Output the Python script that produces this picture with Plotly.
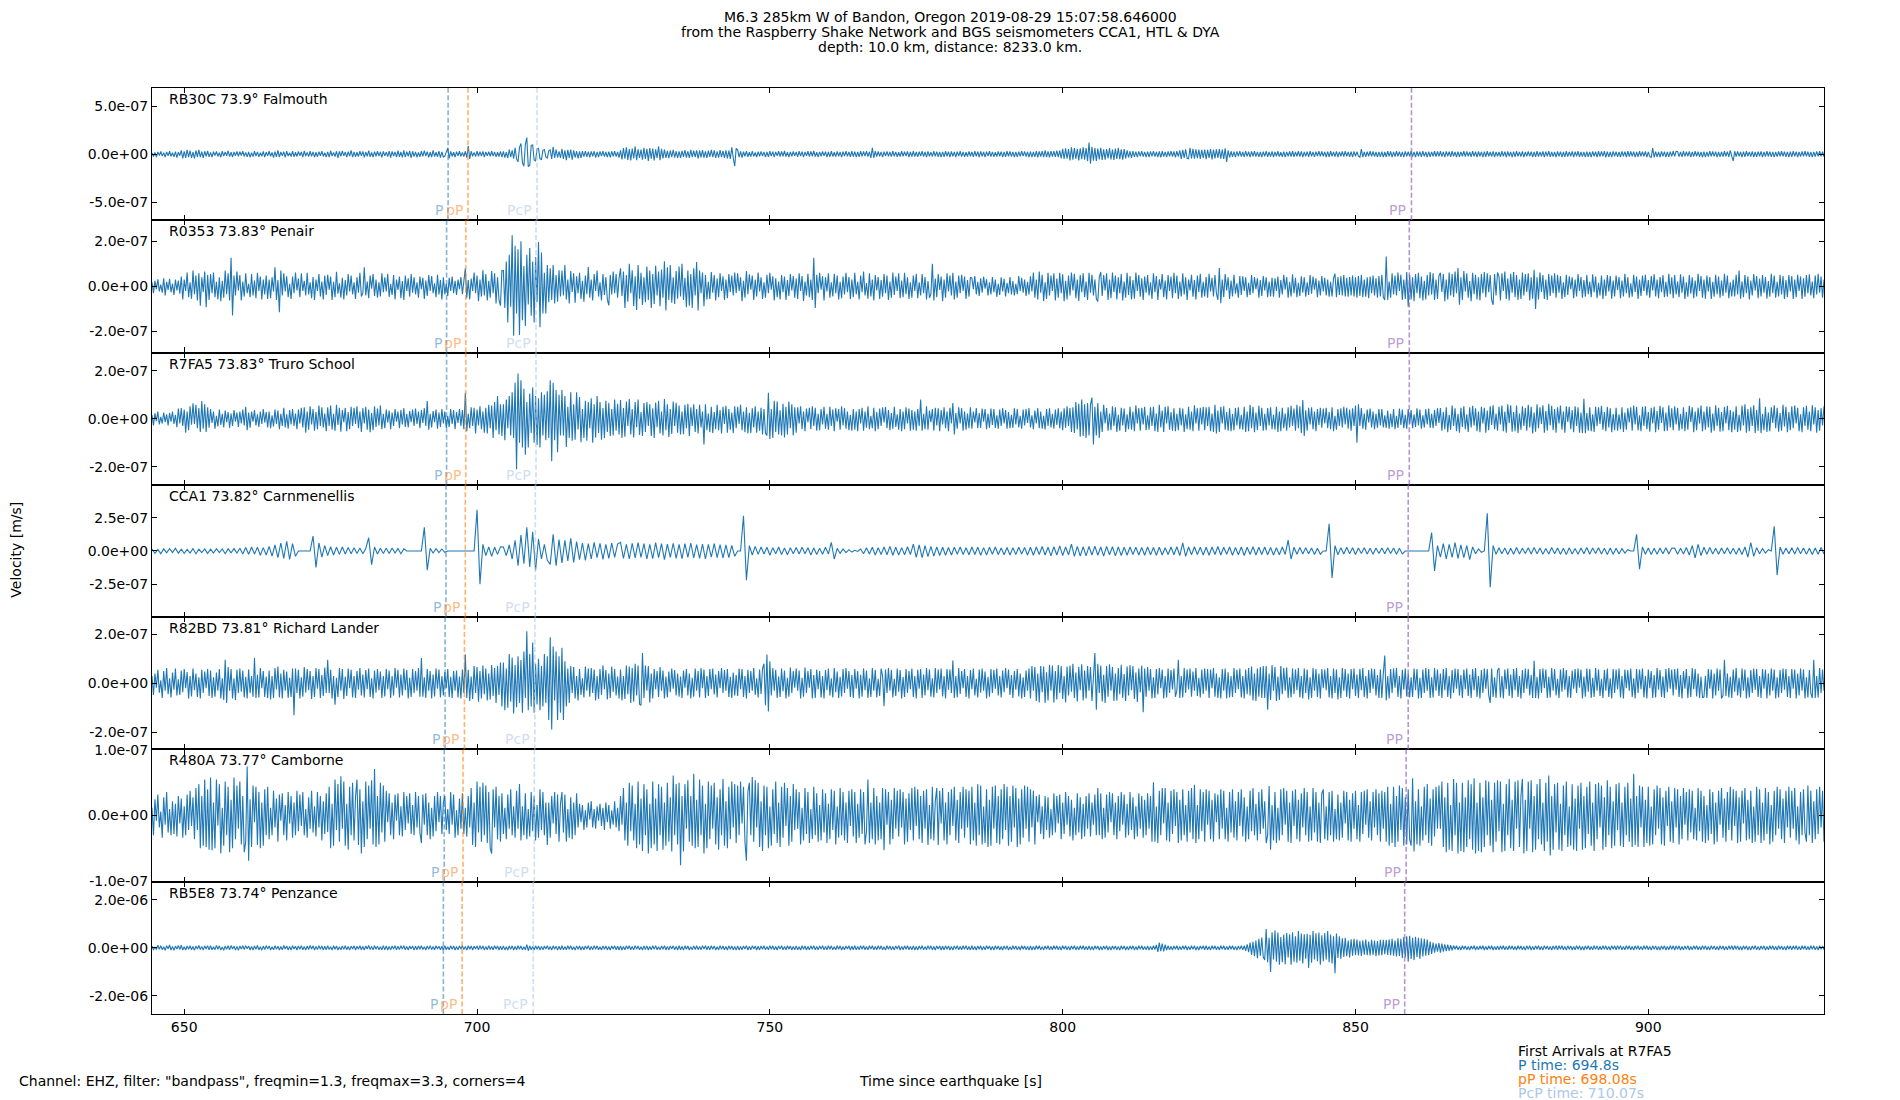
import plotly.graph_objects as go
from plotly.subplots import make_subplots

T0 = 644.5   # first sample, s since origin time

stations = ["RB30C", "R0353", "R7FA5", "CCA1", "R82BD", "R480A", "RB5E8"]
distances = ["73.9", "73.83", "73.83", "73.82", "73.81", "73.77", "73.74"]
places = ["Falmouth", "Penair", "Truro School", "Carnmenellis", "Richard Lander", "Camborne", "Penzance"]
sample_steps = [0.25, 0.25, 0.25, 0.5, 0.25, 0.25, 0.25]   # s between values of each trace

# arrival times per station [s]
p_arrivals = [695.06, 694.8, 694.8, 694.7, 694.55, 694.4, 694.25]
pP_arrivals = [698.45, 698.08, 698.08, 698.0, 697.85, 697.6, 697.45]
PcP_arrivals = [710.24, 710.07, 710.07, 709.96, 709.87, 709.78, 709.6]
PP_arrivals = [859.56, 859.19, 859.19, 859.0, 859.0, 858.65, 858.4]

# y limits and ticks per panel, nm/s
y_limits = [687, 293, 276, 495, 270, 101, 2750]
y_ticks = [[500, 0, -500], [200, 0, -200], [200, 0, -200], [250, 0, -250],
           [200, 0, -200], [100, 0, -100], [2000, 0, -2000]]

# velocity traces, nm/s
rb30c = [
    12,-25,18,-30,22,-14,28,-20,16,-32,24,-18,30,-22,14,-28,26,-35,20,-16,
    40,-45,28,-38,45,-30,36,-40,22,-45,38,-28,44,-32,25,-40,30,-22,35,-28,
    18,-30,25,-15,28,-24,15,-32,30,-20,22,-18,35,-26,20,-30,24,-16,28,-22,
    26,-14,30,-24,18,-28,22,-32,14,-26,30,-20,24,-28,16,-22,28,-30,20,-18,
    30,-22,18,-35,25,-28,40,-30,22,-18,26,-34,30,-20,16,-25,32,-28,20,-24,
    28,-16,22,-30,34,-20,18,-26,30,-22,24,-32,20,-28,26,-18,30,-24,16,-30,
    24,-30,35,-20,18,-26,30,-38,28,-22,34,-18,22,-30,26,-20,38,-32,24,-28,
    20,-26,32,-18,28,-34,22,-24,36,-28,18,-30,26,-22,32,-20,24,-34,28,-18,
    20,-25,32,-36,28,-20,24,-30,36,-28,22,-34,40,-30,26,-22,35,-38,30,-26,
    24,-32,18,-28,30,-24,36,-20,26,-34,22,-30,38,-26,20,-28,32,-36,24,-30,
    -20,30,62,-45,28,-24,20,-30,25,-18,30,-22,18,-26,30,-35,83,-50,30,-22,
    18,-26,30,-22,26,-20,28,-30,22,-18,26,-24,30,-20,24,-28,20,-26,28,-32,
    28,-35,20,-40,48,-30,40,-48,65,-50,-80,70,110,-90,-125,100,172,-130,-118,90,
    95,-60,-70,55,60,-48,-55,40,48,-30,-40,35,45,-50,75,-40,48,-35,30,-40,
    55,-50,40,-62,45,-38,48,-58,40,-35,30,-44,28,-38,32,-25,30,-28,26,-34,
    28,-22,30,-36,24,-30,28,-20,32,-26,22,-30,26,-34,28,-22,30,-26,24,-36,
    40,-55,62,-48,70,-60,52,-66,58,-45,80,-62,50,-40,48,-58,66,-50,55,-70,
    62,-48,58,-66,50,-40,80,-62,55,-45,48,-40,35,-42,38,-30,45,-35,30,-38,
    30,-40,35,-28,42,-36,30,-38,44,-32,36,-30,40,-45,38,-34,42,-36,30,-40,
    36,-28,44,-32,38,-40,30,-36,42,-30,34,-38,40,-44,36,-50,70,-40,-125,60,
    45,-30,28,-35,25,-22,30,-28,20,-26,32,-24,18,-30,26,-22,28,-20,24,-30,
    22,-28,30,-20,26,-32,24,-18,30,-25,28,-22,34,-26,20,-30,24,-22,28,-18,
    22,-28,30,-20,26,-32,24,-18,30,-25,28,-22,34,-26,20,-30,24,-22,28,-18,
    26,-30,22,-28,30,-24,20,-26,28,-22,24,-30,26,-20,32,-24,22,-28,30,-26,
    26,-30,22,-28,30,-24,28,-20,32,-26,24,-40,65,-40,32,-26,28,-22,24,-30,
    26,-20,28,-24,22,-26,30,-22,24,-28,20,-26,30,-24,26,-20,28,-30,22,-26,
    30,-25,22,-28,26,-20,32,-26,24,-30,28,-22,20,-26,30,-24,26,-28,22,-30,
    24,-28,30,-22,26,-32,28,-24,22,-30,26,-20,30,-26,24,-28,20,-25,28,-22,
    24,-28,30,-22,26,-32,28,-24,22,-30,26,-20,30,-26,24,-28,20,-25,28,-22,
    26,-30,24,-28,30,-22,28,-26,24,-30,22,-28,26,-24,30,-20,28,-26,24,-30,
    26,-30,24,-28,30,-34,28,-25,30,-32,38,-30,28,-34,32,-26,30,-28,36,-30,
    38,-45,55,-50,60,-48,52,-65,70,-58,62,-50,55,-66,60,-52,70,-58,64,-72,
    120,-100,75,-68,62,-70,58,-55,66,-60,50,-58,52,-44,62,-56,48,-60,58,-50,
    66,-52,50,-58,52,-44,40,-35,30,-38,32,-28,26,-30,28,-24,32,-26,22,-30,
    26,-30,28,-24,32,-26,22,-30,28,-34,30,-26,24,-30,28,-22,30,-26,28,-34,
    30,-26,40,-50,45,-38,50,-44,-48,66,-45,55,-48,50,-42,46,-50,44,-40,48,
    -52,45,-40,52,-55,48,-44,50,-40,52,-46,48,-50,60,-80,40,-35,30,-28,26,
    -32,28,-24,30,-26,22,-28,30,-24,26,-32,28,-22,30,-26,24,-28,22,-30,26,
    -24,30,-28,22,-26,28,-30,24,-22,30,-26,20,-28,25,-30,22,-24,28,-26,30,
    -28,24,-22,30,-26,28,-30,22,-24,26,-28,30,-22,24,-28,26,-20,30,-24,28,
    -24,22,-30,26,-28,30,-22,24,-26,28,-30,24,-22,28,-26,30,-24,22,-28,26,
    -30,28,-24,26,-22,-32,52,-32,24,-28,26,-22,30,-24,28,-26,22,-30,24,-28,
    26,-30,22,-28,30,-24,28,-32,24,-26,30,-22,26,-28,24,-30,28,-22,26,-24,
    30,-26,24,-30,28,-22,26,-28,30,-24,22,-30,26,-28,24,-22,30,-26,28,-24,
    30,-26,24,-30,28,-22,26,-28,30,-24,22,-30,26,-28,24,-22,30,-26,28,-24,
    22,-28,30,-24,26,-32,28,-22,24,-30,26,-28,32,-24,22,-26,28,-30,24,-22,
    22,-28,30,-24,26,-32,28,-22,24,-30,26,-28,32,-24,22,-26,28,-30,24,-22,
    28,-24,26,-30,22,-28,30,-26,24,-22,28,-30,26,-24,30,-28,22,-26,24,-30,
    28,-24,26,-30,22,-28,30,-26,24,-22,28,-30,26,-24,30,-28,22,-26,24,-30,
    26,-28,24,-30,28,-22,26,-32,30,-26,28,-24,30,-34,26,-28,22,-30,28,-24,
    26,-28,24,-30,28,-22,26,-32,30,-26,28,-24,26,-30,22,-28,30,-24,26,-22,
    28,-30,24,-26,-34,62,-34,26,-28,22,-30,28,-24,26,-30,22,-28,26,-24,30,
    -24,30,28,-26,22,-28,30,-24,26,-22,28,-30,24,-26,30,-22,26,-28,24,-34,
    26,-30,24,-26,30,-22,28,-24,26,-30,22,-28,24,-26,30,-22,26,-28,40,-24,
    -70,30,-26,28,-24,22,-30,26,-28,30,-22,24,-26,28,-30,22,-28,26,-24,28,
    -30,24,-26,30,-22,26,-28,24,-30,22,-26,28,-24,30,-22,26,-28,24,-30,26,
    -28,30,-24,26,-30,22,-26,28,-24,30,-22,26,-28,24,-30,22,-26,28,-24,30,
    -22,26,-28,
]

r0353 = [
    18,-30,25,-12,32,-22,8,-28,36,-40,20,-15,34,-26,12,-38,30,-18,26,-32,
    44,-58,30,-20,62,-48,18,-55,70,-35,48,-62,58,-85,40,-25,66,-92,50,-60,
    55,-30,62,-48,20,-58,40,-66,25,-50,70,-35,58,-62,127,-129,48,-40,66,-18,
    50,-62,22,-45,58,-30,12,-48,55,-40,26,-52,60,-20,44,-58,30,-36,48,-55,
    30,-52,40,-22,85,-60,28,-114,70,-40,58,-22,45,-48,12,-55,44,-30,62,-18,
    35,-48,58,-20,25,-40,60,-35,18,-52,42,-60,30,-20,55,-45,22,-58,48,-38,
    52,-15,44,-60,20,-48,65,-32,14,-50,38,-58,28,-40,55,-22,48,-35,18,-55,
    40,-28,60,-45,-30,85,-40,22,-52,48,-10,55,-42,30,-50,18,-44,58,-26,40,
    -22,56,-46,10,-38,50,-58,30,-16,44,-52,24,-60,48,-20,36,-45,55,-28,40,
    -35,18,-50,44,-12,38,-55,26,-42,50,-20,46,-30,14,-48,52,-36,28,-58,40,
    -35,12,-42,38,-20,44,-30,25,-38,30,-12,42,-34,20,80,-52,28,-58,35,-20,
    62,-30,48,-66,30,-45,72,-40,55,-62,25,-50,68,-30,58,-75,40,-60,-85,70,
    70,-95,110,-160,140,-90,227,-218,180,-120,165,-215,200,-150,90,-175,140,-80,170,-130,
    110,-160,130,-70,197,-181,150,-120,60,-120,95,-70,80,-60,95,-75,50,-68,72,-45,
    70,-40,95,-58,30,-75,68,-25,58,-72,45,-30,60,-55,25,-68,48,-35,86,-50,
    30,-62,55,-20,70,-45,18,-62,55,-38,40,-58,-84,50,-36,66,-30,55,-50,36,
    80,-42,66,-95,50,-68,100,-30,72,-88,45,-104,95,-55,60,-82,40,-70,88,-60,
    70,-95,55,-78,92,-40,66,-88,75,-50,111,-107,85,-60,95,-72,40,-78,68,-55,
    88,-45,100,-60,38,-92,70,-85,55,-96,80,-40,108,-107,70,-30,62,-88,50,-58,
    20,-55,64,-28,50,-62,35,-48,58,-20,45,-60,30,-52,55,-25,48,-40,62,-30,
    58,-20,40,-66,25,-50,68,-35,54,-15,48,-60,30,-44,62,-22,40,-55,18,-50,
    52,-30,60,-14,45,-62,36,-48,22,-58,50,-26,44,-60,28,-42,55,-18,46,-50,
    35,-55,58,-20,46,-64,22,-40,56,-48,30,-60,127,-96,52,-30,60,-14,45,-62,
    40,-22,58,-50,18,-44,56,-30,48,-58,20,-52,44,-36,60,-25,42,-55,30,-48,
    60,-35,20,-58,48,-26,66,-40,15,-54,58,-44,30,-62,50,-18,42,-56,28,-46,
    55,-30,48,-60,22,-50,62,-38,44,-20,58,-52,26,-48,60,-34,40,-56,18,-50,
    48,-20,56,-52,18,-40,55,-30,42,-58,24,-50,-35,100,-62,35,-48,55,-16,44,
    -66,30,-50,58,-22,48,-40,60,-58,22,-50,48,-30,52,-20,44,-56,28,-46,40,
    38,-12,46,-35,20,-42,36,-28,44,-10,32,-40,18,-36,42,-26,30,-46,12,-38,
    40,-22,34,-44,16,-30,42,-36,24,-40,12,-34,46,-20,38,-28,30,-42,20,-36,
    45,-22,62,-50,30,-58,66,-28,52,-65,18,-55,60,-40,48,-20,58,-62,35,-50,
    60,-30,54,-66,25,-58,48,-40,62,-18,56,-52,30,-64,50,-26,58,-48,22,-60,
    60,-28,52,-40,30,-55,-67,40,64,-42,50,-18,58,-60,30,-52,62,-25,48,-58,
    40,-30,55,-62,22,-50,60,-38,46,-58,28,-54,62,-20,50,-46,36,-60,44,-28,
    50,-40,18,-55,58,-26,46,-60,32,-14,55,-48,26,-58,50,-20,44,-52,60,-30,
    48,-56,22,-44,58,-36,40,-60,30,-18,52,-46,28,-58,48,-24,56,-50,20,-44,
    42,-50,56,-22,38,-44,50,-30,-60,81,-74,30,-48,55,-18,40,-56,26,-44,52,
    -32,14,-50,46,-38,45,-20,40,-48,16,-38,50,-30,42,-12,36,-50,28,-42,46,
    -18,40,-48,22,-44,38,-46,36,-20,44,-50,28,-36,52,-14,42,-50,20,-44,54,
    -30,38,-48,16,-42,45,-28,40,-46,18,-38,50,-32,44,-14,36,-48,26,-40,46,
    -22,38,-40,30,-46,20,-44,36,56,-48,42,-38,45,-40,50,-44,38,-46,42,-40,
    48,-44,40,-50,46,-42,52,-48,30,-46,40,-52,44,-30,48,-40,36,-50,46,-44,
    52,-48,-60,133,-60,22,-50,58,-36,48,-40,62,-20,52,-60,30,-55,64,-90,50,
    -58,40,-66,55,-30,60,-52,44,-62,25,-58,50,-40,64,-36,58,-60,30,-55,48,
    60,-25,55,-66,30,-58,62,-40,55,-48,66,-30,81,-81,40,-60,68,-22,58,-50,
    24,-66,60,-35,52,-58,40,-62,55,-30,64,-48,58,-26,50,-60,-81,55,-40,62,
    45,-62,58,-20,66,-55,35,-62,56,-28,64,-48,50,-60,30,-56,62,-40,55,-25,
    58,-62,40,-55,74,-100,40,-58,62,-25,50,-56,30,-60,55,-42,48,-30,58,-50,
    52,-28,46,-55,18,-48,52,-38,45,-12,40,-52,30,-44,55,-20,42,-50,28,-46,
    50,-34,20,-48,54,-26,44,-52,16,-40,48,-56,30,-42,50,-22,46,-54,26,-44,
    48,-16,42,-52,26,-44,56,-30,40,-50,14,-46,52,-24,44,-55,30,-42,48,-20,
    52,-40,28,-50,46,-18,54,-44,30,-52,42,-26,50,-48,20,-46,56,-34,40,-52,
    50,-36,22,-48,54,-28,44,-55,18,-46,50,-32,40,-52,26,-44,56,-20,46,-50,
    30,-54,48,-22,42,-56,20,-46,52,-34,44,-50,26,-42,56,-28,48,-52,18,-44,
    30,-44,52,-36,70,-55,22,-48,50,-30,44,-58,26,-40,55,-18,46,-52,34,-44,
    50,-28,42,-54,24,-46,56,-30,48,-50,20,-44,52,-36,46,-56,28,-48,50,-22,
    46,-55,30,-48,52,-20,44,-56,36,-46,50,-30,54,-40,22,-52,48,-36,56,-28,
    44,-50,30,
]

r7fa5 = [
    15,-28,22,-10,30,-24,8,-20,26,-14,18,-28,24,-12,30,-22,16,-35,42,-20,
    45,-30,38,-58,30,-48,52,-25,64,-22,58,-40,45,-55,74,-42,60,-55,48,-38,
    40,-18,30,-42,12,-32,38,-26,20,-36,34,-14,28,-38,22,-30,36,-12,26,-34,
    30,-20,38,-28,50,-48,26,-38,30,-12,36,-28,18,-34,30,-22,40,-16,28,-36,
    30,-40,14,-32,38,-22,34,-44,20,-30,46,-36,18,-42,36,-24,40,-30,22,-44,
    38,-20,46,-36,48,-58,30,-46,52,-24,40,-50,28,-44,55,-30,48,-36,22,-52,
    48,-30,55,-45,20,-50,58,-26,46,-54,36,-14,45,-52,28,-44,50,-30,46,-22,
    52,-40,30,-55,44,-20,50,-46,38,-56,24,-48,52,-34,42,-28,55,-44,20,-40,
    38,-16,34,-44,26,-30,40,-12,30,-40,36,-24,44,-34,20,-36,32,-14,38,-30,
    42,-22,30,-40,36,-18,44,-30,74,-46,20,-36,32,-14,38,-42,26,-34,40,-20,
    30,-38,12,-34,40,-22,36,-44,28,-18,40,-30,36,-44,108,-52,20,-40,48,-30,
    46,-62,38,-28,52,-44,30,-58,46,-62,58,-40,55,-80,70,-48,95,-66,60,-72,
    60,-90,80,-40,95,-70,110,-80,150,-211,189,-100,160,-120,125,-150,70,-120,105,-60,
    130,-100,95,-110,85,-120,110,-70,100,-90,115,-80,160,-177,150,-90,120,-140,100,-70,
    120,-70,95,-118,50,-80,110,-92,60,-88,110,-45,90,-98,40,-80,75,-92,70,-40,
    85,-100,60,-78,95,-60,70,-88,45,-80,75,-55,66,-72,40,-70,80,-50,62,-66,
    78,-80,45,-75,72,-30,82,-66,40,-78,70,-35,80,-68,28,-72,66,-55,70,-30,
    60,-72,44,-80,68,-36,75,-62,30,-70,82,-48,60,-76,40,-64,72,-30,66,-58,
    55,-66,30,-65,58,-40,62,-72,48,-30,60,-55,40,-62,58,-36,30,-107,60,-48,
    22,-56,50,-60,28,-44,58,-48,36,-62,50,-22,54,-58,40,-46,26,-60,52,-40,
    50,-22,58,-48,30,-56,48,-62,25,-60,44,-36,52,-58,30,-50,46,-66,40,-60,
    -70,108,-85,40,-80,75,-55,72,-66,35,-70,62,-78,50,-66,72,-40,60,-70,48,
    -58,48,-20,52,-44,30,-52,42,-14,46,-44,52,-30,46,-50,20,-48,40,-24,50,
    -42,20,-46,50,-30,38,-52,44,-12,40,-46,52,-28,44,-42,30,-48,16,-50,40,
    -46,30,-52,40,-20,46,-50,30,-38,52,-44,12,-40,46,-52,28,-44,42,-30,48,
    -16,50,-40,36,-48,24,-42,50,-34,18,-46,40,-52,30,-44,48,-20,42,-50,36,
    -46,30,-50,40,-30,80,-50,20,-44,52,-46,34,-14,40,-50,46,-28,44,-52,36,
    -24,48,-40,30,-52,46,-20,65,-66,24,-42,48,-20,44,-50,30,-46,22,-40,48,
    -42,30,-16,45,-40,24,-38,42,-12,40,-44,20,-38,42,-26,40,-38,14,-42,38,
    -30,44,-20,36,-42,28,-40,16,-38,44,-24,40,-36,12,-42,38,-28,40,-18,44,
    -36,14,-44,34,-20,44,-40,30,-42,12,-45,40,-30,44,-36,20,-42,38,-26,44,
    -40,30,-48,44,-38,52,-30,45,-55,48,-60,70,-45,62,-75,80,-72,60,-80,66,
    -70,60,88,-107,50,-70,65,-80,30,-55,58,-20,45,-50,22,-48,52,-30,48,-55,
    16,-50,46,-28,42,-55,18,-44,50,-46,30,-52,56,-20,44,-50,46,-24,50,-48,
    14,-46,48,-30,50,-52,22,-55,58,-36,34,-55,50,-20,52,-46,28,-50,44,-52,
    20,-48,46,-28,42,-55,18,-44,50,-46,30,-52,56,-20,44,-50,46,-24,50,-48,
    48,-30,50,-52,22,-55,58,-62,34,-55,50,-20,52,-46,28,-50,44,-52,20,-48,
    45,-28,48,-44,16,-46,50,-55,30,-52,58,-40,50,-56,26,-48,54,-30,46,-50,
    20,-48,45,-28,48,-44,16,-46,50,-55,30,-52,46,-40,22,-50,48,-36,54,-30,
    42,-50,58,-40,52,-60,78,-72,35,-50,46,-24,48,-44,30,-52,40,-26,46,-38,
    42,-20,46,-40,28,-44,48,-52,12,-46,40,-30,44,-36,50,-24,46,-42,38,-50,
    44,-30,55,-100,60,-30,45,-42,22,-46,38,-16,42,-36,30,-44,20,-38,40,-28,
    40,-36,14,-38,34,-42,20,-35,40,-44,12,-38,42,-26,38,-40,16,-42,40,-22,
    36,-40,18,-34,44,-28,38,-42,14,-36,40,-24,42,-38,20,-40,36,-30,44,-18,
    45,-50,28,-44,48,-56,16,-46,55,-30,44,-52,20,-58,46,-34,52,-44,18,-55,
    48,-36,54,-28,44,-52,30,-56,50,-20,46,-58,34,-48,52,-26,56,-44,22,-50,
    50,-24,55,-52,30,-58,60,-18,56,-54,28,-52,55,-60,22,-46,52,-30,45,-50,
    58,-36,50,-62,26,-54,60,-40,48,-22,56,-58,32,-50,62,-28,54,-48,40,-58,
    48,-20,55,-46,30,-58,52,-14,50,-44,36,-56,52,-30,48,-58,26,-60,83,-60,
    24,-50,48,-52,18,-55,50,-30,48,-22,54,-46,28,-52,50,-36,44,-56,20,-48,
    46,-50,18,-44,48,-55,26,-46,44,-16,48,-50,55,-24,50,-48,14,-52,50,-30,
    52,-44,28,-54,46,-20,50,-56,32,-46,54,-18,48,-52,26,-50,56,-36,44,-48,
    52,-24,46,-50,20,-44,48,-52,28,-46,54,-14,48,-56,30,-48,46,-20,55,-52,
    30,-46,52,-36,50,-58,22,-50,56,-30,46,-54,28,-52,50,-20,54,-48,36,-56,
    30,-46,52,-55,16,-50,55,-28,60,-58,40,-52,48,-30,56,-60,36,-50,85,-60,
    20,-48,50,-55,26,-52,48,-18,56,-40,46,-54,24,-50,58,-32,50,-56,28,-48,
    52,-40,55,-20,46,-52,18,-56,48,-30,54,-46,30,-52,56,-24,48,-58,36,-50,
    44,-28,52,
]

cca1 = [
    15,-18,12,-20,16,-14,18,-12,20,-16,14,-18,12,-15,18,-20,14,-12,16,-18,
    14,-16,18,-12,15,-20,16,-14,18,-15,20,-22,26,-24,30,-22,28,-32,25,-30,
    35,-38,45,-50,60,-55,73,-62,55,-40,0,0,0,0,0,112,-123,60,-45,40,
    -35,32,-30,28,-25,30,-22,26,-20,24,-18,22,-20,18,99,-102,30,-22,20,-18,
    20,-18,22,-15,18,-20,16,0,0,0,0,0,0,177,-143,20,-15,18,-12,15,
    -10,0,0,0,0,0,0,0,0,0,0,308,-248,50,-35,30,-40,28,-25,32,
    30,-35,45,-60,80,-110,120,-95,177,-120,143,-143,90,-60,50,-70,-100,125,-110,85,
    -90,80,-75,95,-85,70,-65,60,-70,55,-60,65,-50,58,-62,50,-55,60,-48,52,
    65,-55,50,-60,58,-52,62,-48,55,-60,50,-58,62,-50,55,-65,52,-48,58,-55,
    50,-58,55,-48,60,-52,48,-55,52,-60,50,-46,55,-50,48,-52,45,-50,42,-40,
    0,0,264,-219,40,-30,35,-25,30,-22,28,-32,25,-20,30,-26,22,-28,24,-20,
    26,-22,28,-20,24,-30,22,-26,20,-24,28,-22,65,-60,20,-18,15,-12,10,-8,
    5,-3,15,-20,25,-22,28,-30,24,-26,30,-28,35,-32,28,-30,25,-28,32,-26,
    52,-48,45,-50,40,-42,35,-38,30,-34,28,-32,26,-30,28,-24,30,-26,24,-28,
    30,-26,28,-32,25,-30,28,-24,30,-26,22,-28,26,-30,24,-26,28,-22,26,-30,
    28,-32,30,-26,34,-30,28,-36,32,-30,38,-34,30,-28,52,-40,35,-38,32,-36,
    34,-30,36,-32,30,-38,34,-28,32,-36,30,-34,28,-32,30,-26,28,-30,26,-32,
    30,-28,26,-32,28,-30,24,-26,30,-28,32,-34,60,-40,30,-28,32,-26,28,-30,
    28,-32,30,-26,34,-30,28,-24,30,-32,26,-28,30,-34,28,-26,32,-30,28,-26,
    30,-28,26,-30,24,-28,30,-26,81,-60,28,-24,26,-22,24,-20,22,-26,20,-24,
    0,0,204,-201,40,-28,25,-22,28,-20,24,-26,22,-18,25,-22,20,-24,22,-18,
    22,-20,24,-18,22,-24,20,-22,0,0,0,0,0,0,0,0,0,138,-149,40,
    -45,55,-60,50,-48,62,-55,45,-50,40,-64,30,-20,15,-10,0,282,-271,40,-25,
    24,-20,22,-26,20,-24,26,-22,20,-18,24,-22,26,-20,22,-24,18,-22,26,-20,
    22,-24,20,-26,24,-22,18,-24,22,-20,26,-24,22,-18,24,-22,20,-26,22,-24,
    20,-22,18,-15,10,0,0,125,-136,30,-24,22,-26,20,-24,22,-20,24,-22,20,
    22,-24,20,-22,26,-30,40,-52,50,-35,28,-24,26,-22,20,-24,22,-20,24,-22,
    20,-24,22,-26,30,-45,62,-40,25,-20,18,-15,10,0,185,-180,30,-24,22,-20,
    24,-22,26,-20,22,-24,20,-26,22,-24,26,-22,
]

r82bd = [
    30,-48,40,-18,55,-38,12,-60,50,-30,62,-45,20,-58,44,-26,60,-50,16,-48,
    52,-36,58,-20,46,-62,30,-54,60,-28,40,-56,24,-62,55,-40,48,-20,58,-52,
    52,-60,24,-55,44,-30,58,-62,20,-68,96,-80,66,-30,58,-62,20,-68,55,-40,
    60,-34,52,-58,26,-62,56,-40,30,-55,103,-60,35,-58,62,-20,50,-56,28,-60,
    52,-66,30,-60,62,-25,68,-58,40,-62,55,-30,48,-60,22,-56,60,-130,60,-40,
    55,-62,24,-55,66,-38,58,-28,50,-64,30,-56,62,-22,58,-60,34,-52,64,-40,
    96,-40,55,-62,30,-87,22,-56,62,-30,58,-64,28,-52,60,-20,55,-58,30,-60,
    50,-26,62,-50,36,-58,54,-24,60,-56,20,-62,52,-38,58,-28,48,-60,30,-54,
    58,-24,52,-60,30,-50,62,-18,55,-58,36,-50,60,-28,54,-62,22,-56,58,-40,
    50,-30,62,-55,103,-55,24,-60,58,-30,50,-62,36,-54,60,-22,56,-58,30,-50,
    46,-20,58,-56,26,-60,50,-30,52,-58,28,-62,56,-40,117,-60,55,-72,28,-64,
    70,-40,66,-75,50,-62,72,-45,60,-70,40,-66,75,-52,62,-80,70,-48,85,-95,
    85,-110,60,-100,120,-75,105,-123,75,-98,110,-80,95,-120,130,-60,212,-110,120,-95,
    166,-120,80,-87,100,-110,70,-95,120,-80,110,-150,188,-189,150,-70,130,-150,110,-120,
    145,-150,90,-95,60,-80,70,-40,66,-62,30,-70,58,-48,20,-58,68,-30,60,-55,
    62,-40,56,-70,30,-64,58,-48,72,-25,54,-66,40,-60,68,-35,58,-50,28,-62,
    56,-70,30,-64,72,-45,68,-80,62,-75,80,-50,72,-85,-90,124,-60,72,-30,70,
    -78,40,-62,58,-24,50,-56,66,-30,52,-62,28,-58,48,-36,60,-22,54,-50,40,
    -55,28,-60,52,-18,58,-50,40,-62,22,-55,60,-30,50,-58,62,-20,56,-60,30,
    -52,58,-24,60,-46,36,-58,50,-20,62,-40,54,-30,58,-56,26,-60,44,-50,34,
    -52,60,-24,58,-56,30,-62,55,-40,50,-30,62,-48,20,-58,56,-44,60,80,-90,
    117,-115,90,-50,62,-30,55,-60,28,-56,60,-32,52,-62,22,-55,64,-40,50,-18,
    60,-30,52,-62,22,-55,64,-40,50,-18,58,-62,34,-60,56,-24,50,-58,30,-62,
    54,-28,60,-50,20,-58,62,-36,48,-60,26,-54,58,-40,62,-22,50,-56,34,-60,
    58,-22,50,-62,35,-55,60,-28,52,-60,20,-56,62,-30,55,-58,18,-52,60,30,
    -94,56,-40,62,-30,55,-58,18,-52,60,-34,54,-62,26,-56,58,-40,50,-24,60,
    -56,30,-62,55,-22,58,-60,36,-50,62,-28,56,-55,20,-58,62,-40,56,-25,60,
    -54,30,-62,58,-26,56,-40,93,-60,30,-58,62,-44,50,-20,58,-56,30,-62,54,
    -24,60,-50,18,-58,56,-38,60,-30,48,-62,26,-55,58,-40,54,-22,60,-50,30,
    -58,52,-36,62,-20,56,-48,34,-60,50,-26,58,-54,40,-62,24,-56,52,-30,60,
    -62,70,-30,66,-72,40,-78,70,-36,68,-80,45,-70,76,-30,72,-78,50,-66,75,
    -40,70,-64,30,-78,68,-50,72,-34,80,-60,44,-74,66,-28,78,-70,52,-62,70,
    -30,66,-72,40,124,-108,80,-40,72,-74,35,-80,70,-55,78,-30,66,-72,40,-70,
    62,-45,76,-60,38,-72,68,-50,74,-28,70,-64,44,-76,60,-36,72,-118,60,-55,
    66,-30,58,-62,24,-60,58,-46,62,-20,56,-62,30,-58,60,-40,54,-25,60,-55,
    -30,96,-60,30,-58,62,-40,56,-25,60,-55,48,-30,62,-52,22,-58,56,-44,60,
    -30,58,-60,56,-20,62,-55,40,-60,24,-62,58,-30,60,-62,45,-58,30,-56,62,
    -40,55,-24,60,-58,30,-62,56,-45,62,-50,68,-70,40,-72,60,-55,66,-60,70,
    -60,70,-108,40,-68,74,-30,66,-72,28,-68,70,-45,62,-30,64,-60,24,-58,60,
    -44,56,-28,62,-58,30,-62,60,-40,56,-66,24,-60,62,-30,58,-56,40,-62,58,
    -20,56,-28,62,-58,30,-62,60,-40,56,-66,24,-60,62,-30,58,-56,40,-62,58,
    -24,60,-52,36,-60,58,-28,62,-56,30,-62,54,-40,60,-22,58,-50,34,-60,56,
    -60,40,113,-70,30,-62,58,-40,60,-18,62,-56,30,-62,55,-26,60,-54,40,-58,
    24,-56,60,-28,58,-62,22,-60,56,-40,62,-30,58,-60,24,-58,62,-30,56,-52,
    40,-60,58,-28,62,-56,30,-62,54,-40,60,-22,58,-50,34,-60,56,-24,60,-52,
    36,-60,58,-28,62,-56,30,-62,54,-40,60,-22,58,-50,-80,60,-56,24,-60,52,
    62,-58,30,-62,56,-24,60,-52,36,-60,58,-28,62,-56,30,-62,54,-40,60,-22,
    58,-50,34,-60,92,-60,26,-62,58,-40,60,-20,56,-60,26,-58,62,-30,58,-50,
    18,-60,56,-34,62,-26,54,-58,30,-60,52,-22,58,-40,60,-18,56,-62,28,-55,
    60,-34,58,-60,22,-56,62,-30,56,-52,18,-60,54,-30,60,-56,20,-62,58,-40,
    56,-24,60,-58,30,-62,56,-20,54,-30,60,-56,20,-62,58,-40,56,-24,60,-58,
    30,-62,56,-20,50,-60,34,-58,62,-26,54,-56,28,-60,58,-36,62,-22,56,-50,
    58,-26,60,-56,34,-62,50,-22,58,-60,30,-56,62,-24,58,-54,40,-60,26,-58,
    -56,30,-60,58,-22,56,-62,40,-50,60,-30,56,-62,-50,96,-52,40,-58,26,-60,
    56,-34,62,-50,22,-58,60,-30,56,-62,24,-58,54,-40,60,-26,58,-56,30,-60,
    58,-22,56,-62,40,-50,60,-30,56,-62,24,-58,54,-40,60,-26,58,-56,30,-60,
    58,-22,56,-62,40,-50,60,-30,56,-62,24,-58,54,-40,-60,96,-60,30,-58,62,
    -40,56,-30,
]

r480a = [
    12,-30,25,-8,32,-18,6,-34,28,-14,36,-26,10,-30,22,-28,18,-32,30,-12,
    26,-34,14,-30,32,-22,38,-16,28,-36,42,-22,48,-50,30,-46,55,-48,40,-52,
    58,-53,20,-50,55,-15,48,-58,12,-46,52,-30,44,-56,24,-50,58,-36,46,-20,
    52,-44,30,-56,-40,75,-69,25,-48,46,-10,44,-45,36,-50,20,-46,40,-30,44,
    -36,12,-30,38,-18,26,-40,32,-8,34,-30,16,-38,36,-12,30,-34,20,-30,38,
    -24,32,-16,36,-30,10,-34,28,-20,38,-26,14,-32,36,-18,30,-38,22,-28,34,
    -25,44,-50,18,-46,55,-22,48,-40,60,-20,52,-46,18,-52,44,-30,50,-38,28,
    55,-45,40,-58,22,-48,52,-36,46,-20,54,-44,71,-48,30,-44,50,-26,46,-40,
    38,-10,34,-30,20,-36,32,-8,34,-30,14,-32,36,-22,30,-12,34,-28,16,-30,
    36,-18,30,-26,-42,32,-14,34,-30,20,-36,12,-32,30,-24,36,-10,30,-28,20,
    30,-22,10,-28,36,-14,32,-34,8,-30,26,-20,34,-28,12,-32,30,-18,42,-45,
    20,-48,52,-26,44,-40,50,-30,46,-42,36,-50,-58,40,-18,44,-36,30,-40,34,
    -28,12,-36,32,-20,40,-30,14,-34,38,-20,48,-38,14,-30,34,-36,10,-32,36,
    -24,30,-38,16,-34,40,-22,36,-30,20,-45,20,-34,30,-12,36,-28,32,-40,18,
    36,-26,32,-40,10,-34,28,-36,20,-30,34,-18,18,-10,16,-22,8,-18,20,-6,
    22,-18,10,-20,14,-8,18,-16,12,-22,20,-10,16,-20,8,-14,22,-18,12,-24,
    30,-14,42,-38,20,-46,50,-24,46,-38,18,-50,52,-44,26,-54,48,-30,40,-58,
    18,-50,52,-44,26,-54,48,-30,44,-52,20,-46,50,-40,28,-55,61,-30,48,-44,
    50,-76,30,-55,48,-20,54,-40,30,-46,64,-50,24,-48,55,-30,46,-58,18,-50,
    52,-36,46,-20,50,-44,28,-52,40,-30,56,-46,22,-50,44,-36,52,-18,48,-42,
    46,-30,52,-12,44,-40,-69,36,50,-30,59,-40,54,-18,50,-48,22,-54,46,-30,
    44,-50,14,-46,40,-28,52,-42,20,-48,44,-34,50,-16,42,-46,30,-40,48,-22,
    40,-20,36,-44,12,-38,42,-28,36,-42,10,-36,44,-30,34,-40,16,-38,40,-26,
    34,-42,18,-36,40,-22,38,-44,14,-34,42,-30,36,-38,20,-42,38,-16,40,-32,
    36,-42,18,-34,40,-28,36,-44,-24,55,-42,20,-36,42,-44,30,-38,20,-36,42,
    -53,40,-14,36,-44,24,-36,42,-20,38,-32,40,-18,36,-44,26,-40,34,-22,42,
    -38,44,-16,40,-36,30,-42,38,-20,40,-45,16,-36,44,-38,22,42,-45,38,-12,
    42,-38,20,-44,36,-30,40,-16,44,-38,24,-42,36,-20,44,-34,40,-18,38,-44,
    44,-38,20,-46,48,-30,46,-44,14,-42,40,-48,24,-46,44,-20,46,-42,30,-44,
    40,-36,48,-22,44,-46,30,-40,46,-18,42,-48,26,-44,40,-34,46,-20,44,-40,
    40,-18,38,-44,30,-10,32,-28,14,-36,30,-22,28,-34,10,-30,34,-26,30,-12,
    32,-36,20,-28,36,-14,30,-32,24,-38,12,-30,34,-26,28,-36,18,-32,30,-20,
    34,-32,20,-14,32,-30,42,-30,34,-36,12,-34,32,-26,36,-10,34,-30,20,-36,
    30,-24,36,-14,32,-34,18,-30,36,-22,28,-36,14,-32,34,-20,30,-34,24,-30,
    34,-20,30,-40,51,-40,14,-42,38,-30,42,-12,42,-38,20,-40,38,-28,40,-16,
    36,-42,24,-38,40,-30,16,-40,38,-26,42,-36,47,-42,16,-36,40,-24,36,-40,
    40,-14,38,-36,24,-40,34,-10,32,-36,40,-20,38,-36,12,-40,36,-26,40,-34,
    22,-38,36,-16,40,-32,28,-40,14,-36,38,-24,42,-30,18,-38,36,-28,40,-20,
    22,-42,-30,45,-52,16,-38,36,-42,12,-38,40,-30,42,-14,38,-40,20,-42,38,
    -16,40,-36,24,-40,34,-18,42,-30,36,-40,14,-38,42,-26,36,-40,20,-42,34,
    40,-36,14,-38,36,-30,38,-40,10,-36,32,-38,20,-34,38,-12,36,-38,24,-40,
    34,-20,38,-36,16,-40,36,-28,38,-14,40,-34,22,-38,36,-18,40,-30,34,-40,
    38,-20,36,-40,44,-46,18,-42,44,-48,30,-40,46,-22,42,-46,28,-44,40,-36,
    -46,57,-55,22,-44,40,-46,14,-38,44,-30,48,-42,26,-46,40,-32,44,-20,46,
    -20,52,-48,28,-56,50,-52,16,-54,56,-30,50,-58,20,-54,50,-56,28,-48,54,
    -36,48,-52,57,-58,20,-54,50,-56,28,-48,54,-30,52,-46,24,-56,50,-40,54,
    -24,52,-56,18,-54,48,-30,56,-50,24,-54,52,-20,54,-48,30,56,-58,24,-54,
    52,-20,54,-56,30,-52,48,-36,56,-44,20,-54,50,-40,61,-61,30,-52,48,-26,
    50,-52,18,-54,46,-30,52,-48,14,-46,48,-52,26,-54,46,-20,50,-52,30,-50,
    44,-28,52,-46,20,-54,48,-36,50,-18,46,-52,28,-48,54,-30,44,-50,22,-46,
    48,-22,50,-46,20,-48,44,-30,50,-40,26,-48,64,-45,30,-48,46,-18,44,-48,
    24,-42,44,-46,14,-44,40,-30,46,-20,42,-44,28,-46,38,-16,44,-40,22,-42,
    42,-18,40,-44,30,-36,42,-14,36,-38,40,-26,38,-36,12,-38,42,-24,38,-40,
    30,-42,16,-38,40,-28,36,-44,20,-40,38,-14,42,-34,26,-40,36,-22,44,-38,
    40,-16,38,-42,28,-40,38,-12,42,-38,24,-36,38,-42,14,-40,44,-30,40,-42,
    20,-38,42,-28,36,-44,16,-40,38,-30,44,-20,40,-36,26,-42,38,-18,44,-34,
    38,-20,42,-38,14,-44,36,-30,40,-26,-40,46,-30,38,-42,22,-36,40,-28,44,
    -18,38,-40,
]

rb5e8 = [
    80,-95,40,-70,110,-60,90,-75,50,-100,85,-40,120,-90,60,-105,75,-50,95,-70,
    110,-88,45,-92,78,-60,90,-80,55,-105,75,-45,100,-70,62,-95,85,-50,92,-82,
    90,-80,50,-75,105,-60,85,-95,40,-100,70,-55,88,-78,95,-45,72,-90,60,-98,
    80,-50,86,-74,92,-40,82,-88,55,-95,76,-60,100,-86,45,-96,74,-70,88,-52,
    82,-90,48,-78,94,-62,70,-92,58,-84,100,-50,78,-86,62,-96,88,-44,70,-90,
    82,-60,94,-78,52,-88,76,-70,96,-48,84,-90,60,-72,92,-56,80,-94,66,-76,
    85,-72,50,-90,88,-60,78,-95,42,-82,76,-64,88,-80,58,-96,74,-48,84,-90,
    72,-56,86,-80,60,-92,78,-46,96,-74,62,-84,90,-58,72,-86,50,-78,92,-84,
    78,-90,56,-84,76,-48,92,-82,64,-74,88,-52,86,-80,60,-90,76,-44,82,-94,
    66,-76,84,-56,88,-72,50,-90,80,-62,94,-76,58,-84,88,-50,72,-80,64,-86,
    90,-78,48,-82,88,-64,76,-92,54,-84,80,-50,88,-74,62,-96,86,-58,80,-90,
    70,-48,78,-84,92,-60,76,-86,52,-80,92,-70,58,-76,86,-52,80,-90,66,-82,
    80,-86,50,-92,78,-62,84,-90,56,-76,88,-60,82,-80,48,-78,130,-120,86,-80,
    60,-90,84,-56,78,-92,62,-84,80,-50,90,-76,58,-88,84,-60,72,-92,64,-80,
    88,-82,52,-80,90,-60,86,-76,48,-92,84,-64,78,-88,56,-82,80,-52,90,-86,
    62,-76,92,-58,84,-78,50,-88,82,-60,80,-86,58,-92,76,-50,84,-78,66,-88,
    82,-88,56,-78,84,-50,90,-80,62,-86,92,-54,80,-76,48,-88,84,-66,82,-90,
    58,-78,86,-62,92,-80,50,-84,78,-56,90,-86,60,-92,80,-48,84,-78,62,-86,
    86,-80,54,-92,84,-60,78,-88,52,-84,82,-66,90,-76,58,-80,92,-50,86,-78,
    64,-84,88,-56,80,-88,50,-86,92,-62,78,-82,56,-90,84,-58,80,-86,62,-92,
    80,-86,58,-84,78,-52,92,-88,60,-82,84,-48,78,-90,64,-86,80,-56,88,-84,
    52,-80,92,-60,84,-76,58,-88,82,-52,90,-84,62,-80,88,-56,76,-92,60,-82,
    84,-80,50,-88,86,-62,76,-90,54,-82,84,-60,92,-80,56,-86,78,-52,90,-84,
    62,-80,88,-58,84,-82,48,-78,90,-60,84,-88,56,-82,80,-50,84,-90,64,-78,
    88,-84,54,-80,92,-58,86,-78,60,-84,88,-52,90,-82,56,-78,86,-62,84,-80,
    50,-92,88,-60,82,-84,58,-86,80,-52,92,-88,62,-82,84,-56,86,-80,60,-84,
    82,-88,56,-86,80,-60,90,-84,52,-78,92,-62,84,-86,58,-88,80,-50,82,-90,
    64,-86,84,-56,80,-88,60,-92,82,-54,86,-84,58,-80,88,-62,92,-82,56,-86,
    86,-82,58,-90,78,-56,84,-88,60,-82,86,-50,80,-90,62,-88,84,-58,78,-86,
    56,-90,80,-62,84,-88,52,-82,86,-60,80,-84,58,-90,88,-56,82,-84,60,-88,
    84,-90,56,-80,86,-60,88,-82,52,-86,80,-62,92,-84,58,-78,88,-56,84,-82,
    60,-90,86,-54,80,-84,62,-88,82,-56,90,-86,58,-80,84,-60,88,-84,56,-80,
    82,-86,60,-88,84,-52,80,-90,56,-86,82,-62,84,-88,58,-90,80,-54,82,-86,
    62,-88,84,-56,80,-90,58,-86,82,-60,84,-88,52,-80,90,-62,86,-82,58,-84,
    84,-88,60,-80,90,-70,120,-170,215,-140,180,-150,130,-90,86,-84,60,-90,80,-56,
    88,-86,62,-82,84,-58,90,-88,56,-80,86,-62,84,-88,58,-90,80,-54,86,-82,
    88,-82,60,-86,90,-56,84,-80,62,-88,86,-58,90,-84,54,-82,88,-60,86,-84,
    58,-88,82,-62,86,-84,90,-120,150,-180,220,-290,250,-350,300,-430,380,-330,430,-380,
    -500,780,-600,420,-1000,650,-480,720,-580,640,-700,450,-600,550,-680,620,-400,560,-700,650,
    -580,480,-620,700,-540,600,-650,560,-450,580,-835,540,-620,700,-480,610,-560,640,-700,520,
    -560,620,-480,700,-600,550,-650,480,-1050,600,-420,480,-450,400,-380,420,-350,300,-400,360,
    -330,380,-300,350,-320,290,-340,310,-280,350,-300,260,-320,340,-290,300,-350,280,-320,340,
    -300,340,-260,320,-290,350,-310,380,-330,300,-360,400,-340,380,-420,450,-400,480,-580,500,
    -460,420,-500,460,-380,420,-450,400,-360,380,-330,350,-300,260,-250,220,-200,180,-160,200,
    -200,180,-160,150,-140,130,-120,110,-100,95,-60,88,-80,56,-92,86,-62,78,-84,60,
    -90,80,-54,86,-88,62,-82,84,-58,88,-90,56,-80,84,-62,86,-88,60,-82,84,
    -86,82,-56,90,-84,60,-80,88,-62,84,-78,54,-92,86,-60,82,-80,56,-88,84,
    -62,86,-90,58,-80,84,-56,88,-82,60,-86,90,-54,80,-84,62,-88,82,-58,86,
    -84,90,-58,86,-80,62,-88,84,-56,82,-92,60,-80,86,-62,84,-88,54,-90,82,
    -60,86,-80,58,-84,88,-62,82,-86,56,-80,88,-58,84,-82,62,-88,86,-54,84,
    -80,86,-62,92,-84,56,-82,88,-60,86,-80,54,-90,84,-58,88,-82,62,-84,90,
    -56,86,-80,60,-88,84,-62,82,-86,58,-90,80,-56,84,-88,62,-82,86,-58,84,
    -88,82,-58,84,-90,60,-86,80,-62,92,-86,56,-80,84,-60,88,-82,58,-86,90,
    -62,84,-80,56,-86,88,-60,82,-84,58,-90,86,-54,80,-88,62,-82,84,-56,86,
    -84,88,-60,80,-86,58,-90,84,-56,82,-88,62,-86,80,-58,92,-84,60,-88,82,
    -56,84,-90,62,-80,86,-58,84,-82,60,-88,86,-62,80,-84,56,-90,86,-60,84,
    -86,80,-58,88,-84,62,-82,90,-56,84,-86,60,-80,88,-62,84,-82,56,-88,86,
    -60,82,-84,
]

traces = [rb30c, r0353, r7fa5, cca1, r82bd, r480a, rb5e8]

# phase name, arrival list, line colour, label colour
phase_lines = [
    ("P", p_arrivals, "rgba(31,119,180,0.55)", "rgba(31,119,180,0.5)"),
    ("pP", pP_arrivals, "rgba(255,127,14,0.6)", "rgba(255,127,14,0.55)"),
    ("PcP", PcP_arrivals, "rgba(174,199,232,0.6)", "rgba(174,199,232,0.6)"),
    ("PP", PP_arrivals, "rgba(148,103,189,0.7)", "rgba(148,103,189,0.65)"),
]

FONT = "DejaVu Sans"

fig = make_subplots(rows=7, cols=1, shared_xaxes=True, vertical_spacing=0)

for i, vals in enumerate(traces):
    row = i + 1
    xr = "x" if row == 1 else f"x{row}"
    yr = "y domain" if row == 1 else f"y{row} domain"
    times = [T0 + sample_steps[i] * k for k in range(len(vals))]
    fig.add_trace(go.Scatter(
        x=times, y=[v * 1e-9 for v in vals], mode="lines",
        line=dict(color="#1f77b4", width=1.1), showlegend=False, hoverinfo="skip"
    ), row=row, col=1)

    lim = y_limits[i] * 1e-9
    fig.update_yaxes(range=[-lim, lim],
                     tickvals=[t * 1e-9 for t in y_ticks[i]],
                     ticktext=[f"{t * 1e-9:.1e}" for t in y_ticks[i]],
                     row=row, col=1)

    # arrival markers
    for label, arr, lcol, tcol in phase_lines:
        fig.add_shape(type="line", xref=xr, yref=yr, x0=arr[i], x1=arr[i], y0=0, y1=1,
                      line=dict(color=lcol, width=1.6, dash="5px,2.5px"))
        fig.add_annotation(xref=xr, yref=yr, x=arr[i], y=0, text=label, showarrow=False,
                           xanchor="right", yanchor="middle", xshift=-3, yshift=10,
                           font=dict(size=14, color=tcol))

    fig.add_annotation(xref=f"{xr} domain", yref=yr, x=0, y=1, xshift=15, yshift=-11,
                       text=f"{stations[i]} {distances[i]}° {places[i]}", showarrow=False,
                       xanchor="left", yanchor="middle", font=dict(size=14, color="black"))

fig.update_xaxes(range=[T0, 930], tickvals=[650, 700, 750, 800, 850, 900],
                 showline=True, mirror="ticks", linecolor="black", linewidth=1.2,
                 ticks="inside", ticklen=5, tickcolor="black", showgrid=False, zeroline=False,
                 tickfont=dict(family=FONT, size=14, color="black"))
fig.update_yaxes(showline=True, mirror="ticks", linecolor="black", linewidth=1.2,
                 ticks="inside", ticklen=5, tickcolor="black", showgrid=False, zeroline=False,
                 tickfont=dict(family=FONT, size=14, color="black"))

# title block
title_lines = [
    "M6.3 285km W of Bandon, Oregon 2019-08-29 15:07:58.646000",
    "from the Raspberry Shake Network and BGS seismometers CCA1, HTL & DYA",
    "depth: 10.0 km, distance: 8233.0 km.",
]
for k, line in enumerate(title_lines):
    fig.add_annotation(xref="paper", yref="paper", x=0.4773, y=1, yshift=71 - 15 * k,
                       text=line, showarrow=False, xanchor="center", yanchor="middle",
                       font=dict(size=14, color="black"))

fig.add_annotation(xref="paper", yref="paper", x=-0.081, y=0.501, text="Velocity [m/s]",
                   textangle=-90, showarrow=False, xanchor="center", yanchor="middle",
                   font=dict(size=14, color="black"))
fig.add_annotation(xref="paper", yref="paper", x=0.4773, y=0, yshift=-67,
                   text="Time since earthquake [s]", showarrow=False,
                   xanchor="center", yanchor="middle", font=dict(size=14, color="black"))
fig.add_annotation(xref="paper", yref="paper", x=0, xshift=-135, y=0, yshift=-67,
                   text='Channel: EHZ, filter: "bandpass", freqmin=1.3, freqmax=3.3, corners=4',
                   showarrow=False, xanchor="left", yanchor="middle", font=dict(size=14, color="black"))

info = [
    ("First Arrivals at R7FA5", "black"),
    ("P time: 694.8s", "#1f77b4"),
    ("pP time: 698.08s", "#ff7f0e"),
    ("PcP time: 710.07s", "#aec7e8"),
]
for k, (txt, col) in enumerate(info):
    fig.add_annotation(xref="paper", yref="paper", x=0.816, y=0, yshift=-36.5 - 14 * k,
                       text=txt, showarrow=False, xanchor="left", yanchor="middle",
                       font=dict(size=14, color=col))

# page body has an 8px margin, so the figure is sized to end at the window edge
fig.update_layout(
    width=1892, height=1092,
    margin=dict(l=144, r=76, t=80, b=86),
    paper_bgcolor="white", plot_bgcolor="white",
    font=dict(family=FONT, size=14, color="black"),
    showlegend=False,
)

fig.write_html("out.html")
